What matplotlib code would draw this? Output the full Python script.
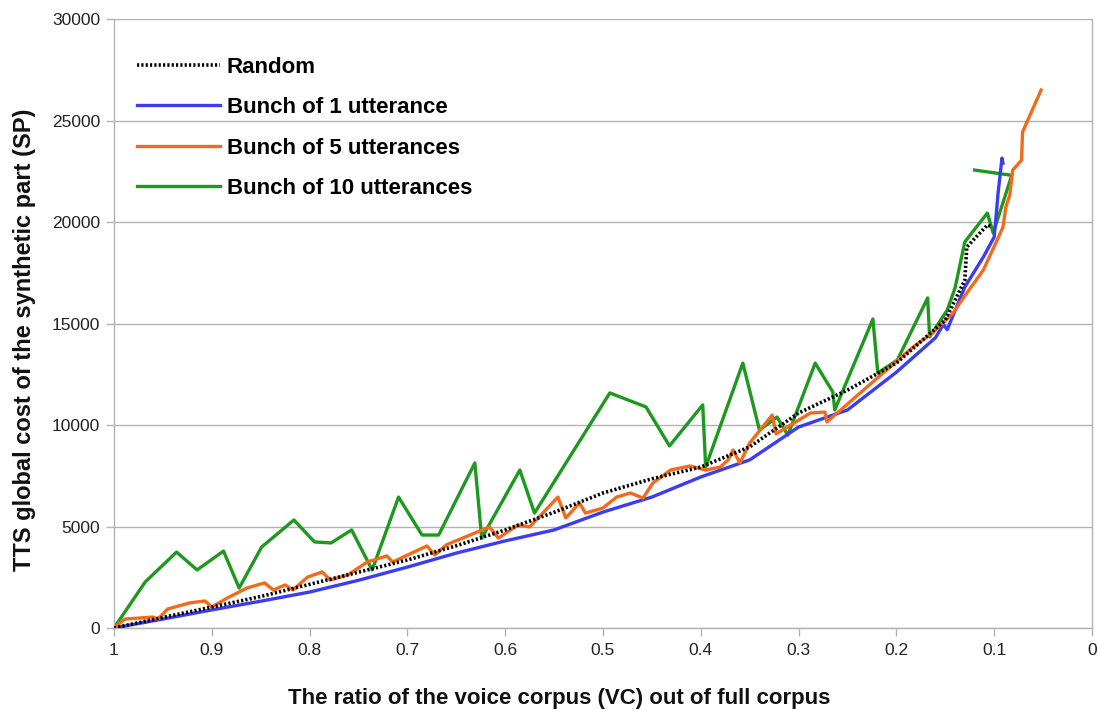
import matplotlib
matplotlib.use("Agg")
import matplotlib.pyplot as plt

plt.rcParams['font.family'] = ['Liberation Sans', 'DejaVu Sans']

# ---- data ----
random_x = [1.0, 0.95, 0.9, 0.85, 0.8, 0.75, 0.7, 0.65, 0.6, 0.55, 0.5, 0.45, 0.4,
            0.35, 0.3, 0.25, 0.2, 0.15, 0.13, 0.128, 0.107, 0.102]
random_y = [0, 520, 1030, 1550, 2150, 2750, 3350, 4050, 4830, 5700, 6650, 7350, 7930,
            8920, 10590, 11720, 13050, 15170, 17140, 18770, 19850, 19750]

b1_x = [1.0, 0.95, 0.9, 0.85, 0.8, 0.75, 0.7, 0.65, 0.6, 0.55, 0.5, 0.45, 0.4,
        0.35, 0.3, 0.25, 0.2, 0.16, 0.152, 0.148, 0.13, 0.111, 0.1, 0.098, 0.096,
        0.092, 0.091]
b1_y = [0, 440, 890, 1320, 1770, 2350, 3000, 3690, 4290, 4830, 5710, 6450, 7440,
        8280, 9900, 10740, 12600, 14300, 14950, 14700, 16800, 18280, 19260, 20300,
        21430, 23150, 22900]

b5_x = [1.0, 0.989, 0.96, 0.955, 0.945, 0.922, 0.907, 0.9, 0.884, 0.864, 0.846, 0.837,
        0.825, 0.817, 0.802, 0.787, 0.779, 0.761, 0.741, 0.721, 0.715, 0.68, 0.672,
        0.66, 0.616, 0.607, 0.587, 0.575, 0.546, 0.538, 0.524, 0.518, 0.5, 0.486,
        0.472, 0.459, 0.449, 0.431, 0.411, 0.395, 0.38, 0.372, 0.367, 0.36, 0.35,
        0.327, 0.323, 0.288, 0.273, 0.271, 0.237, 0.21, 0.183, 0.163, 0.142, 0.128,
        0.111, 0.097, 0.091, 0.088, 0.084, 0.081, 0.072, 0.071, 0.052]
b5_y = [0, 440, 540, 440, 940, 1240, 1330, 1030, 1480, 1970, 2220, 1870,
        2120, 1870, 2510, 2760, 2360, 2610, 3250, 3550, 3250, 4040, 3600,
        4100, 4980, 4430, 5070, 4980, 6450, 5420, 6160, 5660, 5910, 6450,
        6650, 6400, 7140, 7780, 7980, 7780, 7930, 8280, 8770, 8130, 9110,
        10490, 9560, 10590, 10640, 10150, 11580, 12710, 13840, 14530, 15520, 16500,
        17640, 19110, 19750, 20740, 21330, 22560, 23050, 24430, 26500]

b10_x = [1.0, 0.968, 0.936, 0.915, 0.888, 0.872, 0.849, 0.816, 0.795, 0.778, 0.757,
         0.736, 0.709, 0.685, 0.668, 0.631, 0.624, 0.585, 0.570, 0.493, 0.456, 0.432,
         0.398, 0.395, 0.357, 0.340, 0.322, 0.311, 0.283, 0.265, 0.263, 0.224, 0.219,
         0.199, 0.168, 0.166, 0.148, 0.140, 0.130, 0.107, 0.101, 0.082, 0.120]
b10_y = [0, 2270, 3740, 2860, 3790, 1970, 3990, 5320, 4240, 4190, 4830,
         2860, 6450, 4580, 4580, 8130, 4430, 7780, 5660, 11580, 10890, 8970,
         10990, 7930, 13050, 9750, 10390, 9500, 13050, 11630, 10740, 15220, 12560,
         13200, 16260, 14340, 15660, 16750, 19020, 20440, 19460, 22300, 22560]

labels = ["Random", "Bunch of 1 utterance", "Bunch of 5 utterances", "Bunch of 10 utterances"]
x_ticks = [1, 0.9, 0.8, 0.7, 0.6, 0.5, 0.4, 0.3, 0.2, 0.1, 0]
x_tick_labels = ["1", "0.9", "0.8", "0.7", "0.6", "0.5", "0.4", "0.3", "0.2", "0.1", "0"]
y_ticks = [0, 5000, 10000, 15000, 20000, 25000, 30000]

# ---- figure ----
fig = plt.figure(figsize=(11, 7.1), dpi=100)
ax = fig.add_axes([0.1036, 0.1155, 0.8891, 0.8577])

ax.plot(random_x, random_y, color='black', lw=2.6, linestyle=(0, (0.6, 0.6)), label=labels[0], zorder=5)
ax.plot(b1_x, b1_y, color='#3c3cf0', lw=2.4, label=labels[1], zorder=3)
ax.plot(b5_x, b5_y, color='#f26a1b', lw=2.4, label=labels[2], zorder=4)
ax.plot(b10_x, b10_y, color='#1e981e', lw=2.4, label=labels[3], zorder=2)

ax.set_xlim(1, 0)
ax.set_ylim(0, 30000)
ax.set_xticks(x_ticks)
ax.set_xticklabels(x_tick_labels)
ax.set_yticks(y_ticks)

ax.yaxis.grid(True, color='#b3b3b3', lw=1.0)
ax.set_axisbelow(True)
ax.spines['top'].set_visible(False)
for side in ['left', 'right', 'bottom']:
    ax.spines[side].set_color('#b3b3b3')
    ax.spines[side].set_linewidth(1.0)

ax.tick_params(axis='both', colors='#b3b3b3', labelcolor='#222222', labelsize=12.5,
               length=6, width=1.0)
ax.tick_params(axis='x', pad=5)
ax.tick_params(axis='y', pad=4)

ax.set_xlabel("The ratio of the voice corpus (VC) out of full corpus", fontsize=16,
              fontweight='bold', color='#111111')
ax.set_ylabel("TTS global cost of the synthetic part (SP)", fontsize=17,
              fontweight='bold', color='#111111')
ax.xaxis.set_label_coords(0.455, -0.099)
ax.yaxis.set_label_coords(-0.080, 0.473)

leg = ax.legend(loc='upper left', bbox_to_anchor=(0.014, 0.953), frameon=False,
                prop={'weight': 'bold', 'size': 16}, handlelength=3.75,
                handletextpad=0.3, labelspacing=0.88, borderaxespad=0)

fig.savefig("out.png", dpi=100)
